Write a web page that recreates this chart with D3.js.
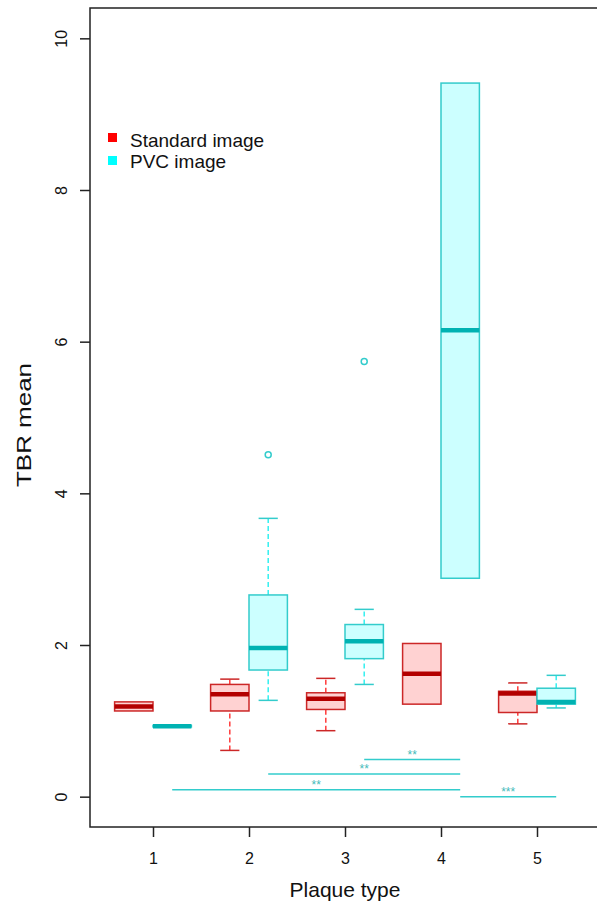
<!DOCTYPE html>
<html>
<head>
<meta charset="utf-8">
<script src="https://cdn.jsdelivr.net/npm/d3@7"></script>
<style>
  body { margin: 0; background: #fff; }
  svg { display: block; font-family: "Liberation Sans", Arial, sans-serif; }
</style>
</head>
<body>
<div id="chart"></div>
<script>
// plaque types on the x axis
const groups = [1, 2, 3, 4, 5];
// box stats per group: [lower whisker, q1, median, q3, upper whisker]
const standardStats = [
  [1.13, 1.13, 1.19, 1.25, 1.25],
  [0.61, 1.13, 1.35, 1.48, 1.55],
  [0.87, 1.15, 1.29, 1.37, 1.56],
  [1.22, 1.22, 1.62, 2.02, 2.02],
  [0.96, 1.11, 1.36, 1.39, 1.50]
];
const pvcStats = [
  [0.92, 0.92, 0.93, 0.94, 0.94],
  [1.27, 1.67, 1.96, 2.66, 3.67],
  [1.48, 1.82, 2.05, 2.27, 2.47],
  [2.88, 2.88, 6.15, 9.41, 9.41],
  [1.17, 1.22, 1.25, 1.43, 1.60]
];
const pvcOutliers = [
  { group: 2, value: 4.51 },
  { group: 3, value: 5.74 }
];
// significance bars: from/to in x units, height in y units
const sigBars = [
  { from: 3.2, to: 4.2, y: 0.49, label: '**' },
  { from: 2.2, to: 4.2, y: 0.30, label: '**' },
  { from: 1.2, to: 4.2, y: 0.09, label: '**' },
  { from: 4.2, to: 5.2, y: 0.00, label: '***' }
];
const yTicks = [0, 2, 4, 6, 8, 10];
const legendItems = ['Standard image', 'PVC image'];

const width = 597, height = 905;
const frame = { left: 90, top: 8, right: 640, bottom: 827 };

const x = d3.scaleLinear().domain([1, 5]).range([153, 537]);
const y = d3.scaleLinear().domain([-0.4, 10.4]).range([frame.bottom, frame.top]);

const series = [
  { name: 'standard', stats: standardStats, offset: -0.2,
    border: '#CC2727', fill: '#FFD2D2', median: '#B30000', whisker: '#FF3B3B', cap: '#CC2727' },
  { name: 'pvc', stats: pvcStats, offset: 0.2,
    border: '#33CCCC', fill: '#CCFFFF', median: '#00B2B2', whisker: '#33F0F0', cap: '#33CCCC' }
];
const halfW = 0.2, capHalf = 0.1;

const svg = d3.select('#chart').append('svg')
  .attr('width', width)
  .attr('height', height);

// boxes
series.forEach(s => {
  const g = svg.append('g').attr('class', 'series ' + s.name);
  s.stats.forEach((st, i) => {
    const cx = groups[i] + s.offset;
    const [lo, q1, med, q3, hi] = st;
    // whiskers
    [[lo, q1], [q3, hi]].forEach(([a, b]) => {
      if (b - a <= 0) return;
      g.append('line')
        .attr('x1', x(cx)).attr('x2', x(cx))
        .attr('y1', y(a)).attr('y2', y(b))
        .attr('stroke', s.whisker)
        .attr('stroke-width', 1.5)
        .attr('stroke-dasharray', '5,3');
      const capV = a === lo ? lo : hi;
      g.append('line')
        .attr('x1', x(cx - capHalf)).attr('x2', x(cx + capHalf))
        .attr('y1', y(capV)).attr('y2', y(capV))
        .attr('stroke', s.cap)
        .attr('stroke-width', 1.5);
    });
    g.append('rect')
      .attr('x', x(cx - halfW))
      .attr('y', y(q3))
      .attr('width', x(cx + halfW) - x(cx - halfW))
      .attr('height', y(q1) - y(q3))
      .attr('fill', s.fill)
      .attr('stroke', s.border)
      .attr('stroke-width', 1.5);
    g.append('line')
      .attr('x1', x(cx - halfW)).attr('x2', x(cx + halfW))
      .attr('y1', y(med)).attr('y2', y(med))
      .attr('stroke', s.median)
      .attr('stroke-width', 4.5);
  });
});

// outliers
svg.selectAll('circle.outlier')
  .data(pvcOutliers)
  .enter()
  .append('circle')
  .attr('class', 'outlier')
  .attr('cx', d => x(d.group + 0.2))
  .attr('cy', d => y(d.value))
  .attr('r', 3)
  .attr('fill', 'none')
  .attr('stroke', '#33CCCC')
  .attr('stroke-width', 1.5);

// significance bars
const sig = svg.append('g').attr('class', 'sig');
sigBars.forEach(b => {
  sig.append('line')
    .attr('x1', x(b.from)).attr('x2', x(b.to))
    .attr('y1', y(b.y)).attr('y2', y(b.y))
    .attr('stroke', '#33CCCC')
    .attr('stroke-width', 1.5);
  sig.append('text')
    .attr('x', x((b.from + b.to) / 2))
    .attr('y', y(b.y) - 1)
    .attr('text-anchor', 'middle')
    .attr('font-size', 12)
    .attr('fill', '#44BBBB')
    .text(b.label);
});

// frame
svg.append('rect')
  .attr('x', frame.left)
  .attr('y', frame.top)
  .attr('width', frame.right - frame.left)
  .attr('height', frame.bottom - frame.top)
  .attr('fill', 'none')
  .attr('stroke', '#222')
  .attr('stroke-width', 1.5);

// y axis
const yAxis = svg.append('g')
  .attr('transform', `translate(${frame.left},0)`)
  .call(d3.axisLeft(y).tickValues(yTicks).tickSize(10).tickFormat(d3.format('d')));
yAxis.select('.domain').remove();
yAxis.selectAll('.tick line').attr('stroke', '#222').attr('stroke-width', 1.5);
yAxis.selectAll('.tick text')
  .attr('font-size', 16)
  .attr('fill', '#111')
  .attr('x', 0).attr('dy', 0)
  .attr('text-anchor', 'middle')
  .attr('transform', 'translate(-23,0) rotate(-90)');

// x axis
const xAxis = svg.append('g')
  .attr('transform', `translate(0,${frame.bottom})`)
  .call(d3.axisBottom(x).tickValues(groups).tickSize(10).tickFormat(d3.format('d')));
xAxis.select('.domain').remove();
xAxis.selectAll('.tick line').attr('stroke', '#222').attr('stroke-width', 1.5);
xAxis.selectAll('.tick text')
  .attr('font-size', 16)
  .attr('fill', '#111')
  .attr('y', 37)
  .attr('dy', 0);

// axis titles
svg.append('text')
  .attr('x', 345).attr('y', 897)
  .attr('text-anchor', 'middle')
  .attr('font-size', 21)
  .attr('fill', '#111')
  .text('Plaque type');
svg.append('text')
  .attr('transform', 'translate(31,425) rotate(-90)')
  .attr('text-anchor', 'middle')
  .attr('font-size', 21)
  .attr('textLength', 124)
  .attr('lengthAdjust', 'spacingAndGlyphs')
  .attr('fill', '#111')
  .text('TBR mean');

// legend
const legendColors = ['#FF0000', '#00FFFF'];
const legend = svg.append('g').attr('class', 'legend');
legendItems.forEach((name, i) => {
  legend.append('rect')
    .attr('x', 108).attr('y', 133 + i * 23)
    .attr('width', 9).attr('height', 9)
    .attr('fill', legendColors[i]);
  legend.append('text')
    .attr('x', 130).attr('y', 147 + i * 21)
    .attr('font-size', 19)
    .attr('fill', '#111')
    .text(name);
});
</script>
</body>
</html>
